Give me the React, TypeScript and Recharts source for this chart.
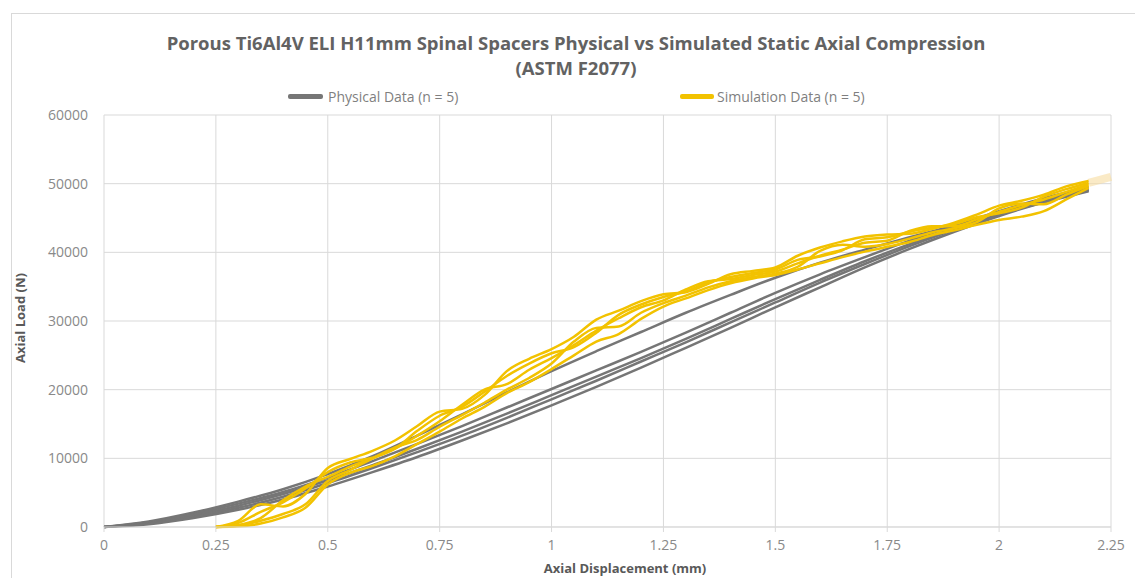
import { LineChart, Line, XAxis, YAxis, CartesianGrid } from "recharts";

const xTicks = [0, 0.25, 0.5, 0.75, 1, 1.25, 1.5, 1.75, 2, 2.25];
const yTicks = [0, 10000, 20000, 30000, 40000, 50000, 60000];

// physical test curves (n = 5)
const physX = [0, 0.1, 0.2, 0.3, 0.4, 0.5, 0.6, 0.7, 0.8, 0.9, 1.0, 1.1, 1.2, 1.3, 1.4, 1.5, 1.6, 1.7, 1.8, 1.9, 2.0, 2.1, 2.2];
const phys1 = [0, 800, 2100, 3700, 5500, 7700, 10300, 13300, 16400, 19600, 22700, 25600, 28400, 31200, 33800, 36300, 38500, 40400, 42200, 43900, 45600, 47300, 48900];
const phys2 = [0, 700, 1900, 3400, 5100, 7200, 9600, 12100, 14700, 17400, 20100, 22800, 25500, 28300, 31200, 34100, 36800, 39300, 41700, 43900, 46000, 47900, 49500];
const phys3 = [0, 600, 1700, 3100, 4800, 6800, 9000, 11400, 13900, 16500, 19200, 21900, 24600, 27400, 30300, 33200, 36000, 38700, 41200, 43500, 45700, 47600, 49200];
const phys4 = [0, 500, 1500, 2800, 4400, 6400, 8600, 10900, 13300, 15900, 18600, 21300, 24100, 26900, 29800, 32700, 35600, 38300, 40900, 43300, 45500, 47400, 49100];
const phys5 = [0, 400, 1300, 2500, 4000, 5900, 8000, 10200, 12600, 15100, 17700, 20400, 23200, 26100, 29000, 32000, 34900, 37800, 40500, 43000, 45300, 47300, 49000];

// simulation curves (n = 5)
const simX = [0.25, 0.3, 0.35, 0.4, 0.45, 0.5, 0.55, 0.6, 0.65, 0.7, 0.75, 0.8, 0.85, 0.9, 0.95, 1.0, 1.05, 1.1, 1.15, 1.2, 1.25, 1.3, 1.35, 1.4, 1.45, 1.5, 1.55, 1.6, 1.65, 1.7, 1.75, 1.8, 1.85, 1.9, 1.95, 2.0, 2.05, 2.1, 2.15, 2.2];
const sim1 = [0, 900, 3300, 3000, 4800, 8600, 9900, 11100, 12600, 14700, 16800, 17200, 19200, 22700, 24500, 25900, 27700, 30200, 31500, 32900, 33900, 34200, 35400, 36800, 37300, 37800, 39500, 40700, 41600, 42300, 42600, 42700, 43400, 44300, 45500, 46800, 47500, 48400, 49600, 50400];
const sim2 = [0, 600, 2200, 3600, 5600, 8000, 9400, 10100, 11400, 14000, 16200, 17500, 19700, 22000, 23800, 25300, 26200, 28300, 30900, 32400, 33500, 34300, 35600, 36400, 37000, 37500, 38900, 39400, 40300, 41900, 42200, 43000, 43600, 44100, 45100, 45700, 46500, 48100, 49200, 50100];
const sim3 = [0, 300, 1300, 3900, 5900, 7300, 8800, 10000, 11400, 13300, 15400, 17800, 20000, 20800, 22900, 24600, 26500, 28600, 30400, 32000, 33000, 34600, 35800, 36100, 36700, 37200, 38400, 39500, 40400, 41400, 41700, 43100, 43800, 43800, 44800, 45900, 46900, 47700, 48800, 49900];
const sim4 = [0, 200, 900, 1900, 3300, 6700, 8300, 10000, 11600, 12700, 14600, 16300, 18100, 20000, 21700, 23800, 27000, 29000, 29200, 31200, 32600, 33700, 34900, 35800, 36400, 36900, 37900, 40200, 41100, 40800, 41200, 42000, 42900, 43500, 44400, 46400, 47100, 47000, 48400, 49700];
const sim5 = [0, 100, 500, 1400, 2800, 6200, 7900, 8900, 10300, 12100, 13900, 15800, 17500, 19500, 21100, 23000, 25000, 27000, 28100, 30300, 32100, 33300, 34500, 35500, 36200, 36700, 37500, 38400, 39300, 40100, 40800, 41500, 42500, 43200, 44000, 44700, 45200, 46000, 47700, 49400];
const tailX = [2.2, 2.25];
const tail = [50100, 51000];

const GRAY = "#767676";
const GOLD = "#f2c200";

const series: [string, number[], number[]][] = [
  ["p1", physX, phys1], ["p2", physX, phys2], ["p3", physX, phys3], ["p4", physX, phys4], ["p5", physX, phys5],
  ["s1", simX, sim1], ["s2", simX, sim2], ["s3", simX, sim3], ["s4", simX, sim4], ["s5", simX, sim5],
  ["tail", tailX, tail],
];

const rowMap = new Map<string, any>();
series.forEach(([key, xs, ys]) => {
  xs.forEach((x, i) => {
    const k = x.toFixed(2);
    if (!rowMap.has(k)) rowMap.set(k, { x });
    rowMap.get(k)[key] = ys[i];
  });
});
const rows = Array.from(rowMap.values()).sort((a, b) => a.x - b.x);

const font = "'Open Sans', 'Noto Sans', sans-serif";

export default function App() {
  return (
    <div style={{ position: "absolute", left: 0, top: 0, width: 1135, height: 578, background: "#fff", overflow: "hidden", fontFamily: font }}>
      <div style={{ position: "absolute", left: 11, top: 13, width: 1140, height: 580, border: "1px solid #d9d9d9" }} />

      <div style={{ position: "absolute", left: 0, width: 1152, top: 30, textAlign: "center", color: "#626262", fontWeight: 700, fontSize: 18.5, lineHeight: "25px" }}>
        Porous Ti6Al4V ELI H11mm Spinal Spacers Physical vs Simulated Static Axial Compression
        <br />
        (ASTM F2077)
      </div>

      {/* legend */}
      <div style={{ position: "absolute", left: 288, top: 87, display: "flex", alignItems: "center", fontSize: 14, color: "#7f7f7f" }}>
        <span style={{ width: 35, height: 5, background: GRAY, borderRadius: 2, marginRight: 5 }} />
        Physical Data (n = 5)
      </div>
      <div style={{ position: "absolute", left: 680, top: 87, display: "flex", alignItems: "center", fontSize: 14, color: "#7f7f7f" }}>
        <span style={{ width: 34, height: 5, background: GOLD, borderRadius: 2, marginRight: 3 }} />
        Simulation Data (n = 5)
      </div>

      <div style={{ position: "absolute", left: 20, top: 318, transform: "translate(-50%, -50%) rotate(-90deg)", whiteSpace: "nowrap", fontSize: 13, lineHeight: "15px", fontWeight: 700, color: "#595959" }}>
        Axial Load (N)
      </div>
      <div style={{ position: "absolute", left: 625, top: 568, transform: "translate(-50%, -50%)", whiteSpace: "nowrap", fontSize: 13, lineHeight: "15px", fontWeight: 700, color: "#595959" }}>
        Axial Displacement (mm)
      </div>

      <div style={{ position: "absolute", left: 0, top: 0 }}>
        <LineChart width={1135} height={578} data={rows} margin={{ top: 115, right: 24, bottom: 26, left: 44 }}>
          <CartesianGrid stroke="#d9d9d9" />
          <XAxis
            type="number"
            dataKey="x"
            domain={[0, 2.25]}
            ticks={xTicks}
            height={25}
            stroke="#d9d9d9"
            tickSize={5}
            tickMargin={8}
            tick={{ fill: "#898989", fontSize: 14, fontFamily: font }}
          />
          <YAxis
            domain={[0, 60000]}
            ticks={yTicks}
            width={60}
            axisLine={false}
            tickLine={false}
            tickMargin={10}
            tick={{ fill: "#898989", fontSize: 14, fontFamily: font }}
          />
          {["p1", "p2", "p3", "p4", "p5"].map((k) => (
            <Line key={k} type="monotone" dataKey={k} stroke={GRAY} strokeWidth={2.5} dot={false} activeDot={false} connectNulls isAnimationActive={false} />
          ))}
          <Line type="linear" dataKey="tail" stroke="#f6dca0" strokeOpacity={0.6} strokeWidth={8} dot={false} activeDot={false} connectNulls isAnimationActive={false} />
          {["s1", "s2", "s3", "s4", "s5"].map((k) => (
            <Line key={k} type="monotone" dataKey={k} stroke={GOLD} strokeWidth={2.5} dot={false} activeDot={false} connectNulls isAnimationActive={false} />
          ))}
        </LineChart>
      </div>
    </div>
  );
}
